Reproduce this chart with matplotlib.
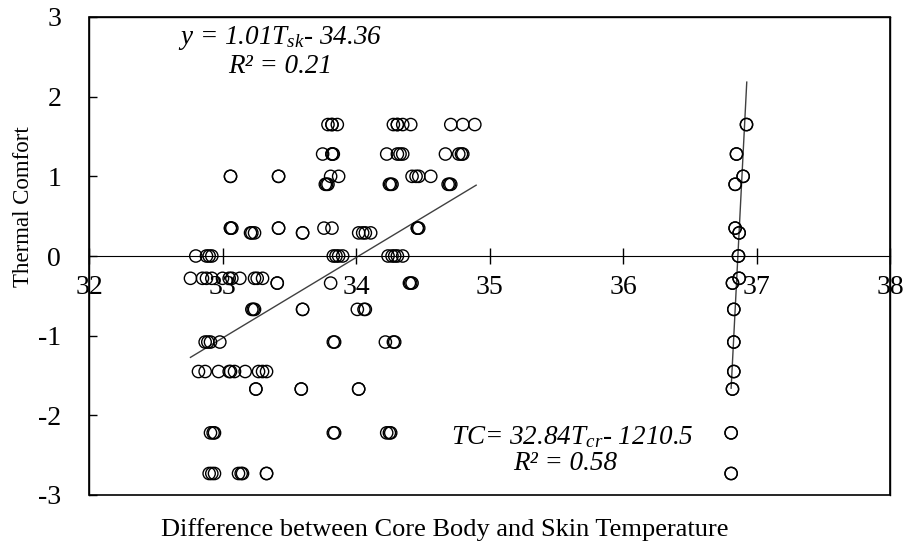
import numpy as np
import matplotlib.pyplot as plt

plt.rcParams['font.family'] = ['Liberation Serif', 'DejaVu Serif']
plt.rcParams['mathtext.fontset'] = 'custom'
plt.rcParams['mathtext.it'] = 'Liberation Serif:italic'
plt.rcParams['mathtext.rm'] = 'Liberation Serif'
plt.rcParams['axes.unicode_minus'] = False

# thermal comfort levels (rows of points)
tc_levels = [1.65, 1.28, 1.0, 0.9, 0.35, 0.29, 0.0, -0.28, -0.34,
             -0.67, -1.08, -1.45, -1.67, -2.22, -2.73]

# skin temperature points, one list per comfort level
skin_rows = [
    [33.79, 33.82, 33.82, 33.86, 34.28, 34.31, 34.31, 34.35, 34.41, 34.71, 34.80, 34.89],
    [33.75, 33.82, 33.82, 33.83, 34.23, 34.31, 34.33, 34.35, 34.67, 34.77, 34.79, 34.80],
    [33.06, 33.06, 33.42, 33.42, 33.81, 33.87, 34.42, 34.45, 34.47, 34.56],
    [33.77, 33.78, 33.79, 34.25, 34.26, 34.27, 34.69, 34.70, 34.71],
    [33.06, 33.06, 33.07, 33.42, 33.42, 33.76, 33.82, 34.46, 34.46, 34.47],
    [33.21, 33.22, 33.24, 33.60, 33.60, 34.02, 34.05, 34.07, 34.11],
    [32.80, 32.88, 32.90, 32.92, 33.83, 33.85, 33.87, 33.90, 34.24, 34.27, 34.29, 34.31, 34.35],
    [32.76, 32.85, 32.88, 32.92, 33.00, 33.05, 33.07, 33.13, 33.24, 33.26, 33.30],
    [33.41, 33.41, 33.81, 34.40, 34.41, 34.42],
    [33.22, 33.23, 33.24, 33.60, 33.60, 34.01, 34.06, 34.07],
    [32.87, 32.89, 32.91, 32.98, 33.83, 33.84, 34.22, 34.28, 34.29],
    [32.82, 32.87, 32.97, 33.05, 33.06, 33.09, 33.17, 33.27, 33.30, 33.33],
    [33.25, 33.25, 33.59, 33.59, 34.02, 34.02],
    [32.91, 32.93, 32.94, 33.83, 33.84, 34.23, 34.25, 34.26],
    [32.90, 32.92, 32.94, 33.12, 33.14, 33.15, 33.33, 33.33],
]

# core temperature points, one per comfort level
core_x = [36.925, 36.85, 36.90, 36.84, 36.84, 36.87, 36.865, 36.87, 36.82,
          36.83, 36.83, 36.83, 36.82, 36.81, 36.81]

# trendlines (slope, intercept)
skin_fit = (1.01, -34.36)
core_fit = (32.84, -1210.5)

skin_x = np.concatenate([np.array(r) for r in skin_rows])
skin_y = np.concatenate([np.full(len(r), lv) for r, lv in zip(skin_rows, tc_levels)])
core_y = np.array(tc_levels)
core_xa = np.array(core_x)

fig = plt.figure(figsize=(9.04, 5.47), dpi=100)
ax = fig.add_axes([89 / 904, 52 / 547, 801 / 904, 478 / 547])

mk = dict(s=78, facecolors='none', edgecolors='black', linewidths=1.0, zorder=3)
ax.scatter(skin_x, skin_y, **mk)
# the core points look bold: plotted twice
ax.scatter(np.repeat(core_xa, 2), np.repeat(core_y, 2), **mk)

xs = np.linspace(skin_x.min(), skin_x.max() + 0.01, 10)
ax.plot(xs, skin_fit[0] * xs + skin_fit[1], color='#404040', lw=1, zorder=2)
xc = np.linspace(core_xa.min(), core_xa.max() + 0.002, 10)
ax.plot(xc, core_fit[0] * xc + core_fit[1], color='#404040', lw=1, zorder=2)

ax.set_xlim(32, 38)
ax.set_ylim(-3, 3)
ax.set_xticks(range(32, 39))
ax.set_yticks(range(-3, 4))

ax.spines['bottom'].set_position(('data', 0))
ax.patch.set_edgecolor('black')
ax.patch.set_linewidth(1.2)
for s in ['left', 'top', 'right']:
    ax.spines[s].set_linewidth(1.0)

ax.tick_params(axis='x', direction='inout', length=11, width=1, labelsize=20, pad=8)
ax.tick_params(axis='y', direction='in', length=6, width=1, labelsize=20, pad=20)

fig.text(24 / 904, 1 - 207 / 547, 'Thermal Comfort', rotation=90,
         ha='center', va='center', fontsize=16.5)
fig.text(445 / 904, 1 - 530 / 547,
         'Difference between Core Body and Skin Temperature',
         ha='center', va='center', fontsize=19)

ax.text(33.43, 2.735, r'y = 1.01T$_{sk}$- 34.36', style='italic', fontsize=19.5,
        ha='center', va='center')
ax.text(33.43, 2.38, 'R² = 0.21', style='italic', fontsize=19.5, ha='center', va='center')
ax.text(35.62, -2.27, r'TC= 32.84T$_{cr}$- 1210.5', style='italic', fontsize=19.5,
        ha='center', va='center')
ax.text(35.57, -2.6, 'R² = 0.58', style='italic', fontsize=19.5, ha='center', va='center')

fig.savefig('out.png', dpi=100)
